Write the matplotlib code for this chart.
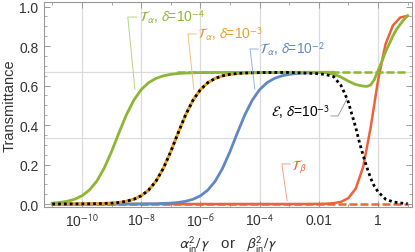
import numpy as np
import matplotlib
matplotlib.use("Agg")
import matplotlib.pyplot as plt
from matplotlib.ticker import FixedLocator, NullFormatter

plt.rcParams['font.family'] = ['Liberation Sans', 'DejaVu Sans']
plt.rcParams['mathtext.fontset'] = 'stixsans'

# --- data (log10 of x, transmittance) ---
green_logx = [-11, -10.75, -10.5, -10.25, -10, -9.75, -9.5, -9.25, -9, -8.75, -8.5, -8.25,
              -8, -7.75, -7.5, -7.25, -7, -6.75, -6.5, -6, -5, -4, -3, -2, -1.75, -1.5,
              -1.25, -1, -0.75, -0.5, -0.375, -0.25, -0.125, 0, 0.125, 0.25, 0.375, 0.5,
              0.625, 0.75, 0.875, 1]
green_y = [0.0044, 0.0077, 0.0136, 0.0239, 0.0413, 0.0701, 0.1152, 0.1806, 0.2652, 0.3601,
           0.4509, 0.5253, 0.5790, 0.6144, 0.6362, 0.6492, 0.6567, 0.6610, 0.6635, 0.6657,
           0.6666, 0.6667, 0.6667, 0.666, 0.665, 0.657, 0.643, 0.622, 0.605, 0.597, 0.596,
           0.603, 0.63, 0.675, 0.72, 0.77, 0.81, 0.85, 0.885, 0.91, 0.935, 0.953]

orange_logx = [-11, -10, -9.5, -9, -8.75, -8.5, -8.25, -8, -7.75, -7.5, -7.25, -7, -6.75,
               -6.5, -6.25, -6, -5.75, -5.5, -5.25, -5, -4.75, -4.5, -4, -3, -2, -1.5]
orange_y = [0.00004, 0.00044, 0.0014, 0.0044, 0.0077, 0.0136, 0.0239, 0.0413, 0.0701,
            0.1152, 0.1806, 0.2652, 0.3601, 0.4509, 0.5253, 0.5790, 0.6144, 0.6362,
            0.6492, 0.6567, 0.6610, 0.6635, 0.6657, 0.6666, 0.6667, 0.6667]

blue_logx = [-11, -9, -8, -7.5, -7, -6.75, -6.5, -6.25, -6, -5.75, -5.5, -5.25, -5, -4.75,
             -4.5, -4.25, -4, -3.75, -3.5, -3.25, -3, -2.75, -2.5, -2, -1.5]
blue_y = [0.0, 0.00004, 0.00044, 0.0014, 0.0044, 0.0077, 0.0136, 0.0239, 0.0413, 0.0701,
          0.1152, 0.1806, 0.2652, 0.3601, 0.4509, 0.5253, 0.5790, 0.6144, 0.6362, 0.6492,
          0.6567, 0.6610, 0.6635, 0.6657, 0.6664]

beta_logx = [-11, -3, -2.5, -2, -1.75, -1.5, -1.25, -1, -0.75, -0.5, -0.25, 0, 0.25, 0.5,
             0.75, 1]
beta_y = [0.0, 0.0, 0.0001, 0.0006, 0.0015, 0.0042, 0.011, 0.030, 0.079, 0.189, 0.387,
          0.626, 0.808, 0.904, 0.945, 0.953]

eps_logx = [-11, -10, -9.5, -9, -8.75, -8.5, -8.25, -8, -7.75, -7.5, -7.25, -7, -6.75,
            -6.5, -6.25, -6, -5.75, -5.5, -5.25, -5, -4.75, -4.5, -4, -3, -2, -1.75,
            -1.5, -1.25, -1.125, -1, -0.875, -0.75, -0.625, -0.5, -0.375, -0.25, -0.125,
            0, 0.25, 0.5, 0.75, 1]
eps_y = [0.00004, 0.00044, 0.0014, 0.0044, 0.0077, 0.0136, 0.0239, 0.0413, 0.0701, 0.1152,
         0.1806, 0.2652, 0.3601, 0.4509, 0.5253, 0.5790, 0.6144, 0.6362, 0.6492, 0.6567,
         0.6610, 0.6635, 0.6657, 0.6666, 0.660, 0.655, 0.645, 0.600, 0.56, 0.515, 0.45,
         0.386, 0.31, 0.245, 0.185, 0.131, 0.09, 0.062, 0.025, 0.011, 0.005, 0.002]

asym_green_logx = [-6.8, 1]
asym_green_y = [2 / 3, 2 / 3]
asym_beta_logx = [-11, 1]
asym_beta_y = [0, 0]

xtick_logs = [-10, -8, -6, -4, -2, 0]
xtick_labels = ["10$^{-10}$", "10$^{-8}$", "10$^{-6}$", "10$^{-4}$", "0.01", "1"]
ytick_vals = [0.0, 0.2, 0.4, 0.6, 0.8, 1.0]
ytick_labels = ["0.0", "0.2", "0.4", "0.6", "0.8", "1.0"]

GREEN = "#8db634"
ORANGE = "#e5a02a"
BLUE = "#6088c2"
RED = "#ef6239"


def px(logs):
    return 10.0 ** np.asarray(logs, dtype=float)


fig = plt.figure(figsize=(4.15, 2.53), dpi=100)
ax = fig.add_axes([0.106, 0.178, 0.887, 0.810])

ax.set_xscale("log")
ax.set_xlim(10 ** -11.28, 10 ** 1.15)
ax.set_ylim(-0.015, 1.023)

# grid
for lg in xtick_logs:
    ax.axvline(10.0 ** lg, color="#dcdcdc", lw=0.9, zorder=0)
for v in [1 / 3, 2 / 3]:
    ax.axhline(v, color="#dcdcdc", lw=0.9, zorder=0)

# curves
ax.plot(px(beta_logx), beta_y, color=RED, lw=1.8, zorder=2)
ax.plot(px(asym_beta_logx), asym_beta_y, color=RED, lw=1.8, dashes=(3.2, 1.2), zorder=2.1)
ax.plot(px(blue_logx), blue_y, color=BLUE, lw=2.0, zorder=3)
ax.plot(px(orange_logx), orange_y, color=ORANGE, lw=2.2, zorder=3)
ax.plot(px(green_logx), green_y, color=GREEN, lw=2.0, zorder=4)
ax.plot(px(asym_green_logx), asym_green_y, color=GREEN, lw=1.8, dashes=(3.2, 1.2), zorder=4.1)
ax.plot(px(eps_logx), eps_y, color="black", lw=2.0, dashes=(1, 1.1), zorder=5)

# callouts
def callout(text, color, lcolor, pts, tx, ty, ha="left"):
    xs = px([p[0] for p in pts])
    ys = [p[1] for p in pts]
    ax.plot(xs, ys, color=lcolor, lw=0.7, zorder=6)
    ax.text(10.0 ** tx, ty, text, color=color, fontsize=10, ha=ha, va="center", zorder=7)


callout(r"$\mathcal{T}_{\,\alpha}$, $\delta$=10$^{-4}$", GREEN, "#b7d486",
        [(-8.14, 0.947), (-8.45, 0.947), (-8.21, 0.582)], -8.08, 0.952)
callout(r"$\mathcal{T}_{\,\alpha}$, $\delta$=10$^{-3}$", ORANGE, "#f0c078",
        [(-6.15, 0.861), (-6.42, 0.861), (-6.22, 0.582)], -6.12, 0.866)
callout(r"$\mathcal{T}_{\,\alpha}$, $\delta$=10$^{-2}$", BLUE, "#9ab3da",
        [(-4.05, 0.785), (-4.32, 0.785), (-4.16, 0.582)], -4.02, 0.79)
callout(r"$\mathcal{E}$, $\delta$=10$^{-3}$", "black", "#a0a0a0",
        [(-1.59, 0.446), (-1.35, 0.446), (-1.05, 0.532)], -1.62, 0.471, ha="right")
callout(r"$\mathcal{T}_{\,\beta}$", RED, "#f5a08a",
        [(-2.97, 0.203), (-3.25, 0.203), (-3.07, 0.017)], -2.94, 0.19)

# ticks and frame
ax.xaxis.set_major_locator(FixedLocator(px(xtick_logs)))
ax.xaxis.set_minor_locator(FixedLocator(px([-11, -9, -7, -5, -3, -1, 1])))
ax.xaxis.set_minor_formatter(NullFormatter())
ax.set_xticklabels(xtick_labels)
ax.set_yticks(ytick_vals)
ax.set_yticklabels(ytick_labels)
ax.yaxis.set_minor_locator(FixedLocator(np.arange(0, 1.01, 0.05)))
ax.tick_params(which="both", direction="in", top=True, right=True, color="#999999",
               labelsize=10, labelcolor="#333333")
ax.tick_params(which="major", length=4, width=0.7, pad=4)
ax.tick_params(which="minor", length=2, width=0.6)
for s in ax.spines.values():
    s.set_color("#999999")
    s.set_linewidth(0.8)

ax.set_ylabel("Transmittance", fontsize=10.5, color="#333333", labelpad=2)
ax.set_xlabel(r"$\alpha_{\rm in}^2/\gamma$   or   $\beta_{\rm in}^2/\gamma$", fontsize=11,
              color="#333333", labelpad=3)

fig.savefig("out.png", dpi=100)
